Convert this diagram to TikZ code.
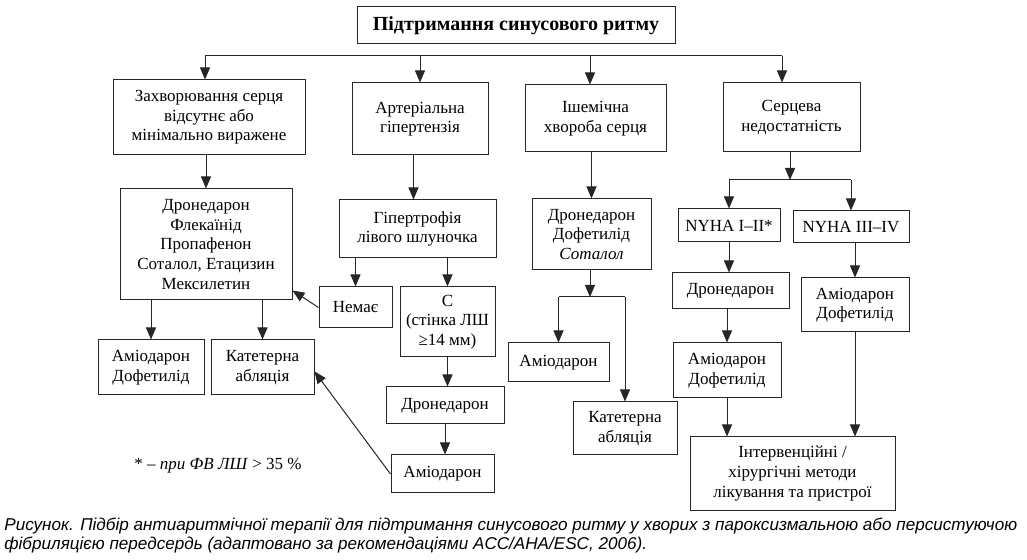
\documentclass[tikz,border=0pt]{standalone}
\usepackage{fontspec}
\setmainfont{Liberation Serif}
\newfontfamily\capfont{Liberation Sans}
\usetikzlibrary{arrows.meta}

\begin{document}
\begin{tikzpicture}[x=0.5pt, y=-0.5pt,
  box/.style={draw=black!85, line width=0.5pt, align=center, inner sep=1pt,
    font=\fontsize{8.5}{9.8}\selectfont},
  wh/.style 2 args={minimum width=#1*0.5pt, minimum height=#2*0.5pt},
  arr/.style={draw=black!85, line width=0.5pt, -{Triangle[width=5pt,length=6pt]}},
  bus/.style={draw=black!85, line width=0.5pt}]
  \useasboundingbox (0,0) rectangle (1027,560);

  %title and groups
  \node[box, wh={318}{37}, font=\bfseries\fontsize{10}{12}\selectfont] (title) at (516,25.5) {Підтримання синусового ритму};
  \node[box, wh={192}{75}] (b1) at (209,117.5) {Захворювання серця\\відсутнє або\\мінімально виражене};
  \node[box, wh={136}{72}] (b2) at (420,119) {Артеріальна\\гіпертензія};
  \node[box, wh={141}{67}] (b3) at (595.5,118.5) {Ішемічна\\хвороба серця};
  \node[box, wh={137}{69}] (b4) at (791.5,117.5) {Серцева\\недостатність};

  %no heart disease
  \node[box, wh={172}{111}] (d1) at (206,244.5) {Дронедарон\\Флекаїнід\\Пропафенон\\Соталол, Етацизин\\Мексилетин};
  \node[box, wh={106}{55}] (amdof1) at (151,367.5) {Аміодарон\\Дофетилід};
  \node[box, wh={103}{55}] (abl1) at (262.5,367.5) {Катетерна\\абляція};
  \node[font=\fontsize{8.5}{10}\selectfont] (note) at (218,466) {* -- \textit{при ФВ ЛШ} > 35 \%};

  %hypertension
  \node[box, wh={157}{58}] (hyp) at (417.5,229) {Гіпертрофія\\лівого шлуночка};
  \node[box, wh={73}{41}] (nem) at (355.5,307.5) {Немає};
  \node[box, wh={95}{70}] (cwall) at (447.5,322) {С\\(стінка ЛШ\\≥14 мм)};
  \node[box, wh={118}{37}] (dron2) at (445,405.5) {Дронедарон};
  \node[box, wh={103}{38}] (amio2) at (442.5,474) {Аміодарон};

  %coronary disease
  \node[box, wh={119}{71}] (d3) at (591.5,234.5) {Дронедарон\\Дофетилід\\\textit{Соталол}};
  \node[box, wh={101}{39}] (amio3) at (558.5,362.5) {Аміодарон};
  \node[box, wh={104}{53}] (abl3) at (625,428.5) {Катетерна\\абляція};

  %heart failure
  \node[box, wh={102}{33}] (nyha12) at (729,225.5) {NYHA I--II*};
  \node[box, wh={116}{32}] (nyha34) at (851,227) {NYHA III--IV};
  \node[box, wh={117}{36}] (dron4) at (730.5,291) {Дронедарон};
  \node[box, wh={108}{55}] (amdof4a) at (727,370.5) {Аміодарон\\Дофетилід};
  \node[box, wh={108}{54}] (amdof4b) at (855,305) {Аміодарон\\Дофетилід};
  \node[box, wh={205}{73}] (interv) at (792.5,473.5) {Інтервенційні /\\хірургічні методи\\лікування та пристрої};

  %caption
  \node[anchor=north west, align=left, inner sep=0pt, font=\capfont\itshape\fontsize{8.55}{9.2}\selectfont] (cap) at (4,518)
    {Рисунок. Підбір антиаритмічної терапії для підтримання синусового ритму у хворих з пароксизмальною або персистуючою\\
     фібриляцією передсердь (адаптовано за рекомендаціями ACC/AHA/ESC, 2006).};

  %arrows
  \coordinate (bus) at (516,56);
  \coordinate (bus3) at (590,297);
  \coordinate (bus4) at (790,180);
  \draw[bus] ([xshift=-2pt]b1.north |- bus) -- ([xshift=-4.75pt]b4.north |- bus);
  \draw[arr] ([xshift=-2pt]b1.north |- bus) -- ([xshift=-2pt]b1.north);
  \draw[arr] (b2.north |- bus) -- (b2.north);
  \draw[arr] ([xshift=-2.75pt]b3.north |- bus) -- ([xshift=-2.75pt]b3.north);
  \draw[arr] ([xshift=-4.75pt]b4.north |- bus) -- ([xshift=-4.75pt]b4.north);

  \draw[arr] (b1.south -| d1.north) -- (d1.north);
  \draw[arr] (d1.south -| amdof1.north) -- (amdof1.north);
  \draw[arr] (d1.south -| abl1.north) -- (abl1.north);

  \draw[arr] ([xshift=-2pt]b2.south -| hyp.north) -- ([xshift=-2pt]hyp.north);
  \draw[arr] (hyp.south -| nem.north) -- (nem.north);
  \draw[arr] (hyp.south -| cwall.north) -- (cwall.north);
  \draw[arr] (cwall.south) -- (cwall.south |- dron2.north);
  \draw[arr] (dron2.south) -- (dron2.south |- amio2.north);
  \draw[arr] (nem.west) -- ([yshift=5pt]d1.south east);
  \draw[arr] (amio2.west) -- ([yshift=-2pt]abl1.east);

  \draw[arr] (b3.south -| d3.north) -- (d3.north);
  \draw[arr] (d3.south -| bus3) -- (bus3);
  \draw[bus] (amio3.north |- bus3) -- (abl3.north |- bus3);
  \draw[arr] (amio3.north |- bus3) -- (amio3.north);
  \draw[arr] (abl3.north |- bus3) -- (abl3.north);

  \draw[arr] (b4.south -| bus4) -- (bus4);
  \draw[bus] (nyha12.north |- bus4) -- (nyha34.north |- bus4);
  \draw[arr] (nyha12.north |- bus4) -- (nyha12.north);
  \draw[arr] (nyha34.north |- bus4) -- (nyha34.north);
  \draw[arr] (nyha12.south) -- (nyha12.south |- dron4.north);
  \draw[arr] (dron4.south -| amdof4a.north) -- (amdof4a.north);
  \draw[arr] (amdof4a.south) -- (amdof4a.south |- interv.north);
  \draw[arr] (nyha34.south -| amdof4b.north) -- (amdof4b.north);
  \draw[arr] (amdof4b.south) -- (amdof4b.south |- interv.north);
\end{tikzpicture}
\end{document}
